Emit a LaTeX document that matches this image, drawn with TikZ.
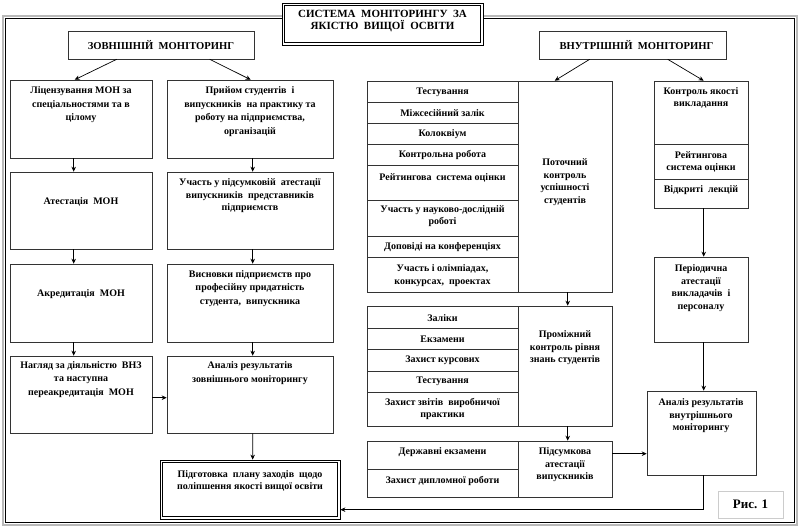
\documentclass[tikz,border=0pt]{standalone}
\usepackage{fontspec}
\setmainfont{Liberation Serif}
\usetikzlibrary{arrows.meta,calc,fit}
\tikzset{
 bx/.style={draw=black!80, line width=0.6pt, inner sep=0pt},
 tx/.style={font=\bfseries\fontsize{10}{12.5}\selectfont, align=center, inner sep=0pt},
 txl/.style={font=\bfseries\fontsize{10}{13.5}\selectfont, align=center, inner sep=0pt},
 txh/.style={font=\bfseries\fontsize{10.6}{12.5}\selectfont, align=center, inner sep=0pt},
 txt/.style={font=\bfseries\fontsize{11}{12.5}\selectfont, align=center, inner sep=0pt},
 arr/.style={-{Stealth[length=5pt,width=4.5pt]}, line width=0.7pt},
 ln/.style={draw=black!80, line width=0.6pt},
 dbl/.style={line width=1.4pt},
}
\begin{document}
\begin{tikzpicture}[x=1pt,y=-1pt]
\useasboundingbox (0,0) rectangle (800,528);
% outer frame
\draw[gray!55, line width=2pt] (3,16) rectangle (797,525);
\draw[black, line width=0.7pt] (5.5,18.5) rectangle (794.5,522);
% title
\node[bx, fill=white, draw=black, line width=0.7pt, fit={(282,3)(483,45)}] (title) {};
\draw[dbl] ($(title.north west)+(3,3)$) rectangle ($(title.south east)+(-3,-3)$);
\node[txt] at (382.5,21) {СИСТЕМА\ \ МОНІТОРИНГУ\ \ ЗА\\ЯКІСТЮ\ \ ВИЩОЇ\ \ ОСВІТИ};
% headers
\node[bx, fit={(68,31)(254,59)}] (ext) {};
\node[txh] at (ext.center) {ЗОВНІШНІЙ\ \ МОНІТОРИНГ};
\node[bx, fit={(539,31)(726,59)}] (int) {};
\node[txh] at ($(int.center)+(4,0)$) {ВНУТРІШНІЙ\ \ МОНІТОРИНГ};
% left column
\node[bx, fit={(10,80)(152,158)}] (l1) {};
\node[txl] at (81,105) {Ліцензування МОН за\\спеціальностями та в\\цілому};
\node[bx, fit={(10,172)(152,249)}] (l2) {};
\node[txl] at (81,202) {Атестація\ \ МОН};
\node[bx, fit={(10,264)(152,342)}] (l3) {};
\node[txl] at (81,294) {Акредитація\ \ МОН};
\node[bx, fit={(10,356)(152,433)}] (l4) {};
\node[txl] at (81,379.5) {Нагляд за діяльністю\ \ ВНЗ\\та наступна\\переакредитація\ \ МОН};
% second column
\node[bx, fit={(167,80)(333,158)}] (r1) {};
\node[txl] at (250,111.5) {Прийом студентів\ \ і\\випускників\ \ на практику та\\роботу на підприємства,\\організацій};
\node[bx, fit={(167,172)(333,249)}] (r2) {};
\node[tx] at (250,196) {Участь у підсумковій\ \ атестації\\випускників\ \ представників\\підприємств};
\node[bx, fit={(167,264)(333,342)}] (r3) {};
\node[txl] at (250,288.5) {Висновки підприємств про\\професійну придатність\\студента,\ \ випускника};
\node[bx, fit={(167,356)(333,433)}] (r4) {};
\node[txl] at (250,373) {Аналіз результатів\\зовнішнього моніторингу};
% bottom plan
\node[bx, draw=black, line width=0.7pt, fit={(160,460)(340,519)}] (plan) {};
\draw[dbl] ($(plan.north west)+(3,3)$) rectangle ($(plan.south east)+(-3,-3)$);
\node[tx] at (250,481) {Підготовка\ \ плану заходів\ \ щодо\\поліпшення якості вищої освіти};
% group 1
\node[bx, fit={(367,81)(612,292)}] (g1) {};
\node[bx, fit={(518,81)(612,292)}] (g1r) {};
\foreach \y in {102,123,144,165,200,236,257} \draw[ln] (367,\y) -- (518,\y);
\node[tx] at (442.5,92.5) {Тестування};
\node[tx] at (442.5,113) {Міжсесійний залік};
\node[tx] at (442.5,134) {Колоквіум};
\node[tx] at (442.5,155) {Контрольна робота};
\node[tx] at (442.5,178) {Рейтингова\ \ система оцінки};
\node[tx] at (442.5,216) {Участь у науково-дослідній\\роботі};
\node[tx] at (442.5,247) {Доповіді на конференціях};
\node[tx] at (442.5,275.5) {Участь і олімпіадах,\\конкурсах,\ \ проектах};
\node[tx] at (565,182) {Поточний\\контроль\\успішності\\студентів};
% group 2
\node[bx, fit={(367,306)(612,426)}] (g2) {};
\node[bx, fit={(518,306)(612,426)}] (g2r) {};
\foreach \y in {328,349,371,392} \draw[ln] (367,\y) -- (518,\y);
\node[tx] at (442.5,318) {Заліки};
\node[tx] at (442.5,339) {Екзамени};
\node[tx] at (442.5,360.5) {Захист курсових};
\node[tx] at (442.5,381.5) {Тестування};
\node[tx] at (442.5,409) {Захист звітів\ \ виробничої\\практики};
\node[tx] at (565,348) {Проміжний\\контроль рівня\\знань студентів};
% group 3
\node[bx, fit={(367,441)(612,497)}] (g3) {};
\node[bx, fit={(518,441)(612,497)}] (g3r) {};
\draw[ln] (367,469) -- (518,469);
\node[tx] at (442.5,452) {Державні екзамени};
\node[tx] at (442.5,481) {Захист дипломної роботи};
\node[tx] at (565,465) {Підсумкова\\атестації\\випускників};
% right column
\node[bx, fit={(654,81)(748,208)}] (kv) {};
\draw[ln] (654,144) -- (748,144);
\draw[ln] (654,179) -- (748,179);
\node[tx] at (701,98) {Контроль якості\\викладання};
\node[tx] at (701,162) {Рейтингова\\система оцінки};
\node[tx] at (701,190) {Відкриті\ \ лекцій};
\node[bx, fit={(654,257)(748,342)}] (per) {};
\node[tx] at (701,288) {Періодична\\атестації\\викладачів\ \ і\\персоналу};
\node[bx, fit={(647,391)(756,475)}] (ana) {};
\node[tx] at (701,416) {Аналіз результатів\\внутрішнього\\моніторингу};
% figure label
\node[draw=black!20, line width=0.6pt, inner sep=0pt, fit={(718,491)(783,518)}] (fig) {};
\node[font=\bfseries\fontsize{13}{15}\selectfont, inner sep=0pt] at (fig.center) {Рис. 1};
% arrows
\draw[arr] ($(ext.south west)+(49,0)$) -- ($(l1.north west)+(65,0)$);
\draw[arr] ($(ext.south west)+(142,0)$) -- ($(r1.north west)+(84,0)$);
\draw[arr] ($(l1.south west)+(64,0)$) -- ($(l2.north west)+(64,0)$);
\draw[arr] ($(l2.south west)+(64,0)$) -- ($(l3.north west)+(64,0)$);
\draw[arr] ($(l3.south west)+(64,0)$) -- ($(l4.north west)+(64,0)$);
\draw[arr] ($(r1.south west)+(86,0)$) -- ($(r2.north west)+(86,0)$);
\draw[arr] ($(r2.south west)+(86,0)$) -- ($(r3.north west)+(86,0)$);
\draw[arr] ($(r3.south west)+(86,0)$) -- ($(r4.north west)+(86,0)$);
\draw[arr] ($(l4.north east)+(0,42)$) -- ($(r4.north west)+(0,42)$);
\draw[arr] ($(r4.south west)+(86,0)$) -- ($(plan.north west)+(93,0)$);
\draw[arr] ($(int.south west)+(51,0)$) -- ($(g1r.north west)+(37,0)$);
\draw[arr] ($(int.south west)+(129,0)$) -- ($(kv.north west)+(50,0)$);
\draw[arr] ($(g1.south west)+(201,0)$) -- ($(g2.north west)+(201,0)$);
\draw[arr] ($(g2.south west)+(201,0)$) -- ($(g3.north west)+(201,0)$);
\draw[arr] ($(g3.north east)+(0,13)$) -- ($(ana.north west)+(0,63)$);
\draw[arr] ($(kv.south west)+(50,0)$) -- ($(per.north west)+(50,0)$);
\draw[arr] ($(per.south west)+(50,0)$) -- ($(ana.north west)+(57,0)$);
\draw[arr] ($(ana.south west)+(57,0)$) |- ($(plan.north east)+(0,50)$);
\end{tikzpicture}
\end{document}
